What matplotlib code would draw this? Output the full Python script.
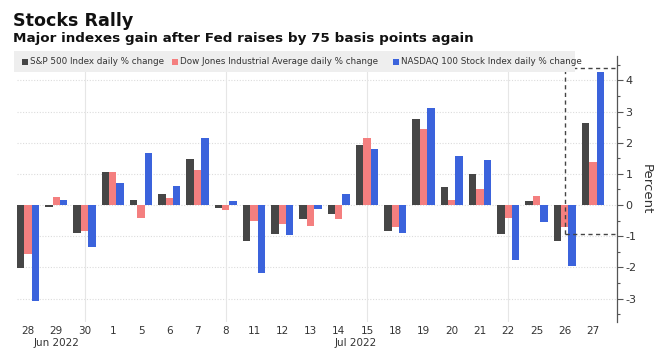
import matplotlib
matplotlib.use("Agg")
import matplotlib.pyplot as plt
import matplotlib.transforms as mtransforms
from matplotlib.patches import Rectangle
import numpy as np

days = ["28", "29", "30", "1", "5", "6", "7", "8", "11", "12", "13", "14",
        "15", "18", "19", "20", "21", "22", "25", "26", "27"]
sp500 = [-2.01, -0.07, -0.88, 1.06, 0.16, 0.36, 1.47, -0.08, -1.15, -0.92, -0.45, -0.30,
         1.92, -0.84, 2.76, 0.59, 0.99, -0.93, 0.13, -1.15, 2.62]
dow = [-1.56, 0.27, -0.82, 1.05, -0.42, 0.23, 1.12, -0.15, -0.52, -0.62, -0.67, -0.46,
       2.15, -0.69, 2.43, 0.15, 0.51, -0.43, 0.28, -0.71, 1.37]
nasdaq = [-3.07, 0.17, -1.33, 0.70, 1.68, 0.61, 2.15, 0.14, -2.19, -0.97, -0.14, 0.34,
          1.79, -0.90, 3.11, 1.56, 1.44, -1.77, -0.54, -1.96, 4.26]
series_names = ["S&P 500 Index daily % change",
                "Dow Jones Industrial Average daily % change",
                "NASDAQ 100 Stock Index daily % change"]
month_labels = ["Jun 2022", "Jul 2022"]
yticks = [-3, -2, -1, 0, 1, 2, 3, 4]

colors = ["#464646", "#f47f7f", "#3b63dc"]

W, H = 666, 355
fig = plt.figure(figsize=(W / 100, H / 100), dpi=100)
fig.patch.set_facecolor("white")

def fx(px):
    return px / W

def fy(py):
    return 1 - py / H

ax_left, ax_right, ax_top, ax_bot = 17, 617, 56, 322
ax = fig.add_axes([fx(ax_left), fy(ax_bot), fx(ax_right - ax_left), (ax_bot - ax_top) / H])

x = np.arange(len(days))
bw = 0.26
for i, (vals, c) in enumerate(zip([sp500, dow, nasdaq], colors)):
    ax.bar(x + (i - 1) * bw, vals, width=bw, color=c, zorder=3)

ax.set_xlim(-0.39, 20.85)
ax.set_ylim(-3.75, 4.78)

# grid
for yv in yticks:
    ax.axhline(yv, color="#dcdcdc", lw=0.8, ls=(0, (1, 1.5)), zorder=1)
for xv in [2, 7, 12, 17]:
    ax.axvline(xv, color="#e6e6e6", lw=0.8, zorder=1)

for s in ["top", "left", "bottom"]:
    ax.spines[s].set_visible(False)
ax.spines["right"].set_color("#555555")
ax.spines["right"].set_linewidth(0.9)

ax.yaxis.tick_right()
ax.yaxis.set_label_position("right")
ax.set_yticks(yticks)
ax.set_yticklabels([str(v) for v in yticks], fontsize=8, color="#333333")
ax.set_yticks(np.arange(-3.5, 5.0, 1.0), minor=True)
ax.tick_params(axis="y", which="major", length=4, width=0.8, color="#555555", pad=2)
ax.tick_params(axis="y", which="minor", length=2, width=0.8, color="#555555")
ax.set_ylabel("Percent", fontsize=9.5, rotation=270, labelpad=12, color="#333333")

ax.set_xticks(x)
ax.set_xticklabels(days, fontsize=7.5, color="#333333")
ax.tick_params(axis="x", length=0, pad=3)

trans = mtransforms.blended_transform_factory(ax.transData, fig.transFigure)
ax.text(1, fy(343), month_labels[0], transform=trans, ha="center", va="center",
        fontsize=7.5, color="#333333")
ax.text(11.6, fy(343), month_labels[1], transform=trans, ha="center", va="center",
        fontsize=7.5, color="#333333")

# dashed highlight box
dash = (0, (3, 2.5))
ax.plot([19, 19], [-0.94, 4.38], color="#444444", lw=1.0, ls=dash, zorder=4, clip_on=False)
ax.plot([19, 20.85], [4.38, 4.38], color="#444444", lw=1.0, ls=dash, zorder=4, clip_on=False)
ax.plot([19, 20.85], [-0.94, -0.94], color="#444444", lw=1.0, ls=dash, zorder=4, clip_on=False)

# titles
fig.text(fx(13), fy(21), "Stocks Rally", fontsize=12.6, fontweight="bold", va="center",
         ha="left", color="#111111")
fig.text(fx(13), fy(38.5), "Major indexes gain after Fed raises by 75 basis points again",
         fontsize=9.7, fontweight="bold", va="center", ha="left", color="#111111")

# legend band
fig.patches.append(Rectangle((fx(14), fy(72)), fx(575 - 14), (72 - 51) / H,
                             transform=fig.transFigure, facecolor="#eeeeee",
                             edgecolor="none", zorder=0))
leg_x = [22, 172, 393]
for lx, name, c in zip(leg_x, series_names, colors):
    fig.patches.append(Rectangle((fx(lx), fy(64.5)), fx(6), 6 / H, transform=fig.transFigure,
                                 facecolor=c, edgecolor="none", zorder=2))
    fig.text(fx(lx + 8), fy(61.5), name, fontsize=6.3, va="center", ha="left", color="#333333")

fig.savefig("out.png", dpi=100)
